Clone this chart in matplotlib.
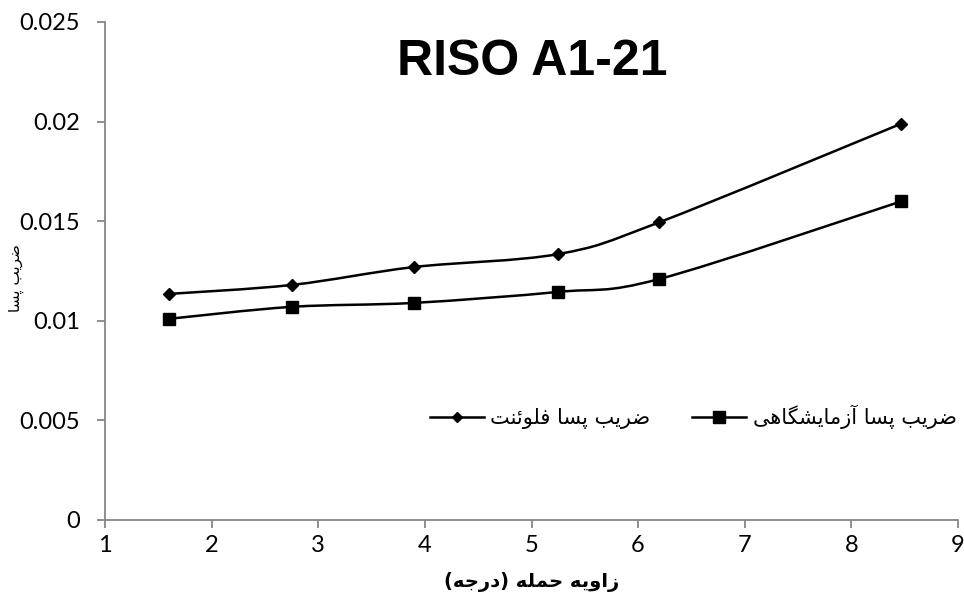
import matplotlib
matplotlib.use("Agg")
import matplotlib.pyplot as plt
from matplotlib.path import Path
from matplotlib.patches import PathPatch
from matplotlib.lines import Line2D

# data
angle = [1.6, 2.75, 3.9, 5.25, 6.2, 8.47]
cd_fluent = [0.01135, 0.0118, 0.0127, 0.01335, 0.01495, 0.0199]
cd_lab = [0.0101, 0.0107, 0.0109, 0.01145, 0.0121, 0.0160]

title = "RISO A1-21"
xlabel = "زاویه حمله (درجه)"
ylabel = "ضریب پسا"
label_fluent = "ضریب پسا فلوئنت"
label_lab = "ضریب پسا آزمایشگاهی"

xticks = [1, 2, 3, 4, 5, 6, 7, 8, 9]
yticks = [0, 0.005, 0.01, 0.015, 0.02, 0.025]
yticklabels = ["0", "0.005", "0.01", "0.015", "0.02", "0.025"]

# matplotlib has no arabic shaping: map letters to presentation forms, then
# reverse to visual order. (isolated, final, initial, medial)
FORMS = {
    "ا": ("\uFE8D", "\uFE8E", None, None),
    "آ": ("\uFE81", "\uFE82", None, None),
    "د": ("\uFEA9", "\uFEAA", None, None),
    "ر": ("\uFEAD", "\uFEAE", None, None),
    "ز": ("\uFEAF", "\uFEB0", None, None),
    "و": ("\uFEED", "\uFEEE", None, None),
    "ب": ("\uFE8F", "\uFE90", "\uFE91", "\uFE92"),
    "پ": ("\uFB56", "\uFB57", "\uFB58", "\uFB59"),
    "ت": ("\uFE95", "\uFE96", "\uFE97", "\uFE98"),
    "ج": ("\uFE9D", "\uFE9E", "\uFE9F", "\uFEA0"),
    "ح": ("\uFEA1", "\uFEA2", "\uFEA3", "\uFEA4"),
    "س": ("\uFEB1", "\uFEB2", "\uFEB3", "\uFEB4"),
    "ش": ("\uFEB5", "\uFEB6", "\uFEB7", "\uFEB8"),
    "ض": ("\uFEBD", "\uFEBE", "\uFEBF", "\uFEC0"),
    "ف": ("\uFED1", "\uFED2", "\uFED3", "\uFED4"),
    "گ": ("\uFB92", "\uFB93", "\uFB94", "\uFB95"),
    "ل": ("\uFEDD", "\uFEDE", "\uFEDF", "\uFEE0"),
    "م": ("\uFEE1", "\uFEE2", "\uFEE3", "\uFEE4"),
    "ن": ("\uFEE5", "\uFEE6", "\uFEE7", "\uFEE8"),
    "ه": ("\uFEE9", "\uFEEA", "\uFEEB", "\uFEEC"),
    "ئ": ("\uFE89", "\uFE8A", "\uFE8B", "\uFE8C"),
    "ی": ("\uFBFC", "\uFBFD", "\uFBFE", "\uFBFF"),
}


def fa(text):
    out = []
    for i, c in enumerate(text):
        if c not in FORMS:
            out.append(c)
            continue
        iso, fin, ini, med = FORMS[c]
        prev = text[i - 1] if i > 0 else None
        nxt = text[i + 1] if i + 1 < len(text) else None
        jp = prev in FORMS and FORMS[prev][2] is not None
        jn = nxt in FORMS and ini is not None
        if jp and jn:
            out.append(med)
        elif jp:
            out.append(fin)
        elif jn:
            out.append(ini)
        else:
            out.append(iso)
    return "".join(reversed(out)).translate(str.maketrans("()", ")("))


def smooth_path(xs, ys):
    # excel-like smoothed line: cubic bezier through the points
    n = len(xs)
    verts = [(xs[0], ys[0])]
    codes = [Path.MOVETO]
    for i in range(n - 1):
        i0 = max(i - 1, 0)
        i3 = min(i + 2, n - 1)
        c1 = (xs[i] + (xs[i + 1] - xs[i0]) / 6, ys[i] + (ys[i + 1] - ys[i0]) / 6)
        c2 = (xs[i + 1] - (xs[i3] - xs[i]) / 6, ys[i + 1] - (ys[i3] - ys[i]) / 6)
        verts += [c1, c2, (xs[i + 1], ys[i + 1])]
        codes += [Path.CURVE4] * 3
    return Path(verts, codes)


FA_FONT = "DejaVu Sans"
NUM_FONT = "Lato"
GRAY = "#868686"

fig = plt.figure(figsize=(9.64, 5.94), dpi=100)
ax = fig.add_axes([105 / 964, 1 - 520 / 594, 853 / 964, 498 / 594])

for ys, mk, ms in [(cd_fluent, "D", 6), (cd_lab, "s", 8)]:
    ax.add_patch(PathPatch(smooth_path(angle, ys), fill=False, color="black", lw=1.8))
    ax.plot(angle, ys, linestyle="none", marker=mk, ms=ms, color="black")

ax.set_xlim(1, 9)
ax.set_ylim(0, 0.025)
ax.set_xticks(xticks)
ax.set_xticklabels([str(t) for t in xticks], fontfamily=NUM_FONT, fontsize=17)
ax.set_yticks(yticks)
ax.set_yticklabels(yticklabels, fontfamily=NUM_FONT, fontsize=17)
for s in ["top", "right"]:
    ax.spines[s].set_visible(False)
for s in ["left", "bottom"]:
    ax.spines[s].set_color(GRAY)
    ax.spines[s].set_linewidth(1.3)
ax.tick_params(direction="out", length=6, width=1.3, color=GRAY)
ax.tick_params(axis="y", pad=12)
ax.tick_params(axis="x", pad=5)

fig.text(532 / 964, 1 - 62 / 594, title, ha="center", va="center",
         fontfamily="Liberation Sans", fontweight="bold", fontsize=36)
fig.text(532 / 964, 1 - 582 / 594, fa(xlabel), ha="center", va="center",
         fontfamily=FA_FONT, fontweight="bold", fontsize=14)
fig.text(16 / 964, 1 - 278 / 594, fa(ylabel), ha="center", va="center",
         rotation=90, fontfamily=FA_FONT, fontsize=11)

handles = [
    Line2D([], [], color="black", lw=1.8, marker="D", ms=5),
    Line2D([], [], color="black", lw=1.8, marker="s", ms=8),
]
fig.legend(handles, [fa(label_fluent), fa(label_lab)], ncol=2, frameon=False,
           loc="center left", bbox_to_anchor=(430 / 964, 1 - 417 / 594),
           prop={"family": FA_FONT, "size": 15}, handlelength=2.6,
           handletextpad=0.3, columnspacing=2.0, borderpad=0, borderaxespad=0)

fig.savefig("out.png", dpi=100)
